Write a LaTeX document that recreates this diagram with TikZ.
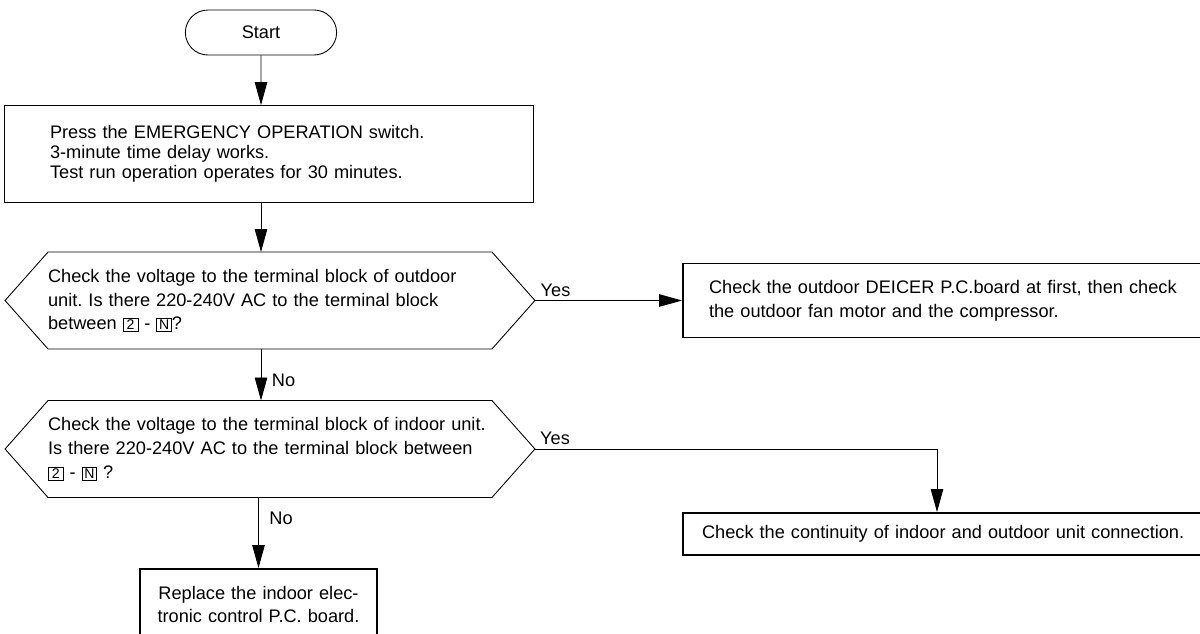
\documentclass[tikz,border=0pt]{standalone}
\usepackage{fontspec}
\setmainfont{Liberation Sans}
\frenchspacing
\usetikzlibrary{shapes.misc, arrows.meta, positioning, calc}
\newcommand{\tbox}[1]{{\setlength{\fboxsep}{0.8pt}\setlength{\fboxrule}{0.4pt}%
  \fbox{\fontsize{8}{8}\selectfont\makebox[0.8em]{#1}}}}
% hexagonal outline round a decision node
\newcommand{\hexframe}[1]{%
  \draw[line width=0.5pt] (#1.west) -- ([xshift=0.86cm]#1.north west)
    -- ([xshift=-0.86cm]#1.north east) -- (#1.east)
    -- ([xshift=-0.86cm]#1.south east) -- ([xshift=0.86cm]#1.south west) -- cycle;}
\tikzset{
  box/.style={rectangle, draw=black, line width=0.5pt, text width=#1,
              align=left, inner ysep=0pt, fill=white},
  box/.default=9cm,
  endbox/.style={box=#1, line width=1.1pt},
  endbox/.default=9cm,
  decision/.style={rectangle, outer sep=0pt, minimum width=10.6cm,
              minimum height=1.94cm, text width=8.88cm, inner xsep=0.86cm,
              inner ysep=0pt, align=left},
  terminal/.style={rounded rectangle, draw=black, line width=0.5pt,
              minimum width=3.26cm, minimum height=0.9cm},
  arrow/.style={-{Triangle[length=0.46cm, width=0.25cm]}, line width=0.5pt},
  answer/.style={inner sep=2pt},
}

\begin{document}
\begin{tikzpicture}[x=0.02cm, y=-0.02cm, font=\fontsize{10.35}{13.6}\selectfont]
\useasboundingbox (0,0) rectangle (1200,633);

% ── main column ───────────────────────────────────────────────────────────────
\node[terminal] (start) at (261,32.5) {Start};

\node[box=8.74cm, inner xsep=0.92cm, minimum height=1.94cm,
      font=\fontsize{10.35}{11.5}\selectfont] (press) at (268.5,154)
  {Press the EMERGENCY OPERATION switch.\\
   3-minute time delay works.\\
   Test run operation operates for 30 minutes.};

\node[decision] (chk1) at (270,300.5)
  {Check the voltage to the terminal block of outdoor\\
   unit. Is there 220-240V AC to the terminal block\\
   between \tbox{2} - \tbox{N}?};
\hexframe{chk1}

\node[decision] (chk2) at (270,449)
  {Check the voltage to the terminal block of indoor unit.\\
   Is there 220-240V AC to the terminal block between\\
   \tbox{2} - \tbox{N} ?};
\hexframe{chk2}

\node[endbox=4.34cm, inner xsep=0.2cm, align=center, minimum height=1.42cm]
  (rep) at (258.5,604.5)
  {Replace the indoor elec-\\tronic control P.C. board.};

% ── right column ──────────────────────────────────────────────────────────────
\node[endbox=9.9cm, inner xsep=0.52cm, minimum height=1.48cm] (fix1) at (956.5,300.5)
  {Check the outdoor DEICER P.C.board at first, then check\\
   the outdoor fan motor and the compressor.};

\node[endbox=10.2cm, inner xsep=0.38cm, minimum height=0.84cm] (fix2) at (957,534)
  {Check the continuity of indoor and outdoor unit connection.};

\coordinate (turn) at (937,0);

% flow arrows
\draw[arrow] (start) -- (start |- press.north);
\draw[arrow] (start |- press.south) -- (start |- chk1.north);
\draw[arrow] (start |- chk1.south)
  -- node[answer, right, xshift=4pt, pos=0.6] {No} (start |- chk2.north);
\draw[arrow] (rep.north |- chk2.south)
  -- node[answer, right, xshift=4pt, pos=0.29] {No} (rep.north);
\draw[arrow] (chk1.east) -- node[answer, above, pos=0.14] {Yes} (fix1.west);
\draw[arrow] (chk2.east) -- node[answer, above, pos=0.05] {Yes} (chk2.east -| turn)
  -- (turn |- fix2.north);

\end{tikzpicture}
\end{document}
